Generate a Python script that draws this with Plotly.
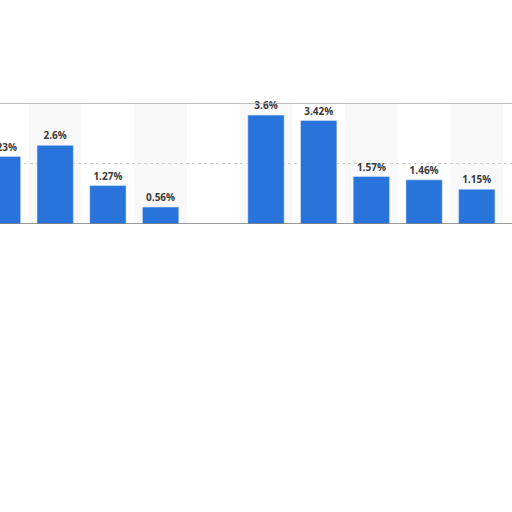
import plotly.graph_objects as go

# categories are cut off in the source image, so placeholder names are used
categories = ["C1", "C2", "C3", "C4", "C5", "C6", "C7", "C8", "C9", "C10"]
shares = [2.23, 2.6, 1.27, 0.56, None, 3.6, 3.42, 1.57, 1.46, 1.15]

fig = go.Figure()

# alternating light column bands
for i in range(1, len(categories), 2):
    fig.add_shape(
        type="rect", xref="x", yref="y",
        x0=i - 0.5, x1=i + 0.5, y0=0, y1=4,
        fillcolor="#f8f8f8", line_width=0, layer="below",
    )

fig.add_bar(
    x=categories,
    y=shares,
    width=0.69,
    marker_color="#2874db",
    texttemplate="%{y}%",
    textposition="outside",
    textfont=dict(family="Open Sans", size=10, color="#3a3a3a", weight="bold"),
    cliponaxis=False,
)

# frame lines at top and bottom of plot area
fig.add_shape(type="line", xref="paper", yref="y", x0=0, x1=1, y0=4, y1=4,
              line=dict(color="#a8a8a8", width=1.5))
fig.add_shape(type="line", xref="paper", yref="y", x0=0, x1=1, y0=0, y1=0,
              line=dict(color="#7a7a7a", width=1.5))

fig.update_layout(
    width=512, height=512,
    margin=dict(l=0, r=0, t=103, b=288),
    paper_bgcolor="white", plot_bgcolor="white",
    showlegend=False,
)
fig.update_xaxes(range=[-0.047, 9.668], showticklabels=False, showgrid=False,
                 zeroline=False, showline=False)
fig.update_yaxes(range=[0, 4], dtick=2, showticklabels=False, showgrid=True,
                 gridcolor="#d0d0d0", griddash="dot", zeroline=False)

fig.write_html("out.html", config={"displayModeBar": False},
               post_script="document.body.style.margin = '0';")
